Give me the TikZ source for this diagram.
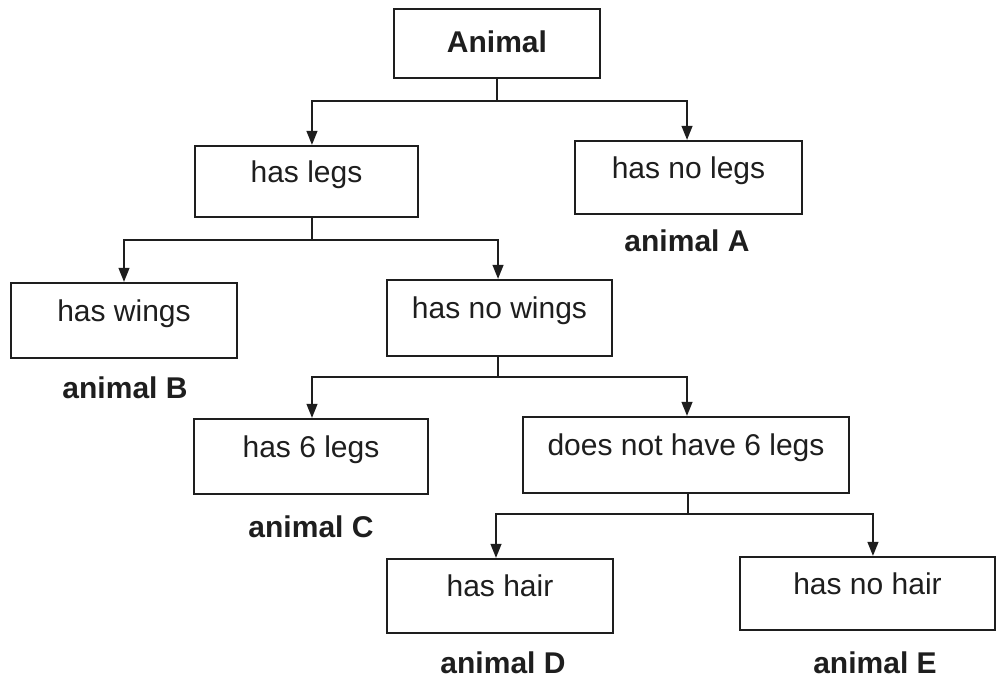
\documentclass[tikz,border=0pt]{standalone}
\usepackage{fontspec}
\setmainfont{Liberation Sans}
\usetikzlibrary{arrows.meta,calc}
\definecolor{ink}{HTML}{1E1E1E}
\begin{document}
\begin{tikzpicture}[x=0.75pt,y=-0.75pt,
  box/.style={draw=ink, line width=1.6pt, inner sep=0pt, text=ink,
    font=\fontsize{22.5}{27}\selectfont, text height=8pt, text depth=7pt},
  wh/.style 2 args={minimum width=#1*0.75pt, minimum height=#2*0.75pt},
  lbl/.style={anchor=base, inner sep=0pt, text=ink,
    font=\fontsize{22.5}{27}\selectfont\bfseries},
  conn/.style={draw=ink, line width=1.5pt},
  arr/.style={conn, -{Triangle[length=10.5pt,width=8pt]}}
]
\fill[white] (0,0) rectangle (997,681);
\useasboundingbox (0,0) rectangle (997,681);

% boxes
\node[box, wh={206}{69}, text height=15pt, text depth=1pt,
  font=\fontsize{22.5}{27}\selectfont\bfseries] (animal) at (497,43.5) {Animal};
\node[box, wh={223}{71}] (legs)    at (306.5,181.5) {has legs};
\node[box, wh={227}{73}] (nolegs)  at (688.5,177.5) {has no legs};
\node[box, wh={226}{75}] (wings)   at (124,320.5)   {has wings};
\node[box, wh={225}{76}] (nowings) at (499.5,318)   {has no wings};
\node[box, wh={234}{75}] (six)     at (311,456.5)   {has 6 legs};
\node[box, wh={326}{76}] (notsix)  at (686,455)     {does not have 6 legs};
\node[box, wh={226}{74}] (hair)    at (500,596)     {has hair};
\node[box, wh={255}{73}] (nohair)  at (867.5,593.5) {has no hair};

% labels
\node[lbl] (labA) at (687,252) {animal A};
\node[lbl] (labB) at (125,398) {animal B};
\node[lbl] (labC) at (311,537) {animal C};
\node[lbl] (labD) at (503,673) {animal D};
\node[lbl] (labE) at (875,673) {animal E};

% junctions
\coordinate (j1) at (497,101);
\coordinate (j2) at (312,240);
\coordinate (j3) at (498,377);
\coordinate (j4) at (688,514);

% connectors
\draw[conn] (animal.south -| j1) -- (j1);
\draw[arr] (j1) -| ([xshift=4.1pt]legs.north);
\draw[arr] (j1) -| ([xshift=-1.1pt]nolegs.north);

\draw[conn] (legs.south -| j2) -- (j2);
\draw[arr] (j2) -| (wings.north);
\draw[arr] (j2) -| ([xshift=-1.1pt]nowings.north);

\draw[conn] (nowings.south -| j3) -- (j3);
\draw[arr] (j3) -| ([xshift=0.75pt]six.north);
\draw[arr] (j3) -| ([xshift=0.75pt]notsix.north);

\draw[conn] (notsix.south -| j4) -- (j4);
\draw[arr] (j4) -| ([xshift=-3pt]hair.north);
\draw[arr] (j4) -| ([xshift=4.1pt]nohair.north);
\end{tikzpicture}
\end{document}
